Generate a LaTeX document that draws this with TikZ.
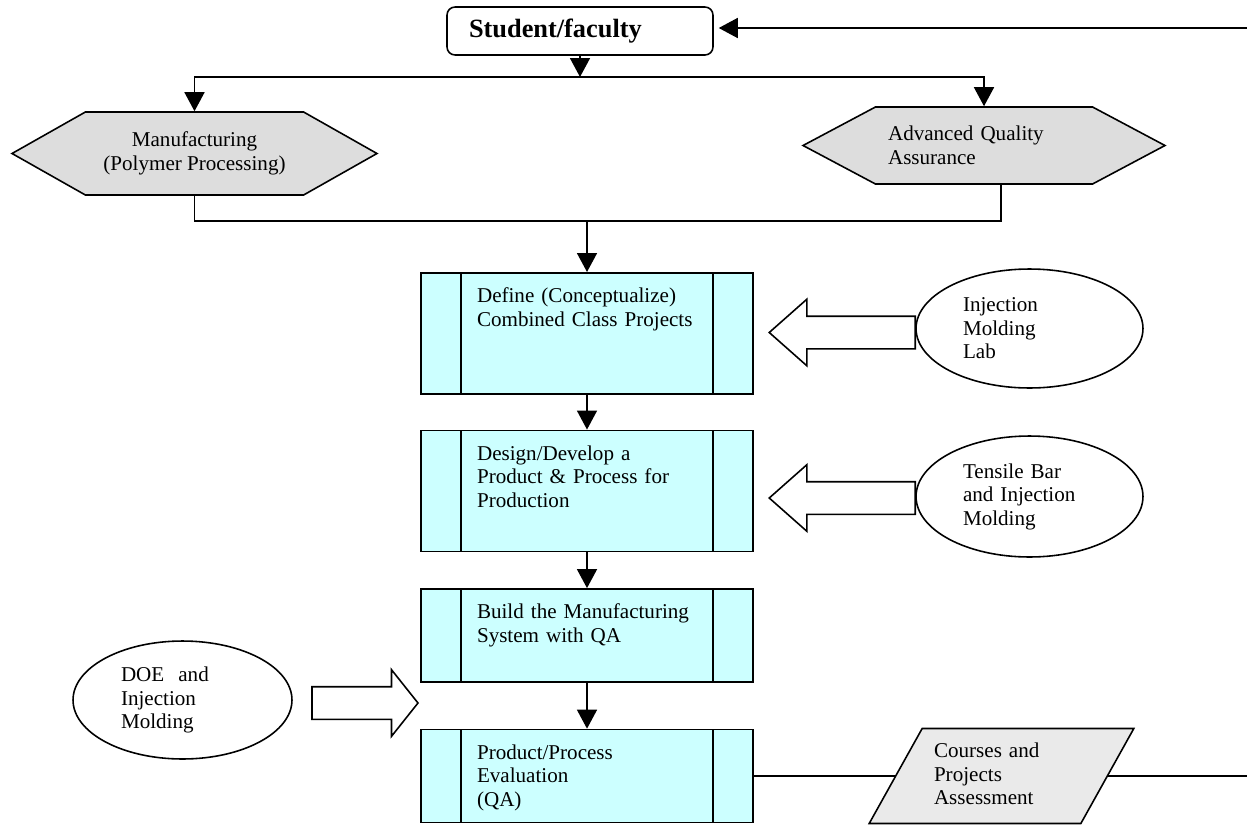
\documentclass[tikz,border=0pt]{standalone}
\usepackage{fontspec}
\setmainfont{Liberation Serif}
\usepackage{tikz}
\usetikzlibrary{positioning, arrows.meta, shapes.symbols, shapes.geometric, shapes.arrows}

\definecolor{boxcyan}{HTML}{CCFFFF}
\definecolor{hexgray}{HTML}{DDDDDD}
\definecolor{paragray}{HTML}{EAEAEA}

\begin{document}
\begin{tikzpicture}[
        x=0.02cm, y=-0.02cm,
        line width=0.9pt,
        every node/.style={font=\fontsize{12}{13.4}\selectfont},
        top_node/.style={rectangle, draw, rounded corners=0.16cm, minimum width=5.32cm, minimum height=0.96cm, inner xsep=0.44cm, text width=4.44cm, align=left, font=\fontsize{15}{18}\selectfont\bfseries},
        hex_node/.style={signal, signal to=west and east, draw, fill=hexgray, align=center, inner sep=0pt},
        proc_node/.style={rectangle, draw, fill=boxcyan, inner xsep=1.12cm, inner ysep=0pt, text width=4.4cm, align=left, text height=0.6cm,
            path picture={\draw ([xshift=0.8cm]path picture bounding box.north west) -- ([xshift=0.8cm]path picture bounding box.south west);
                \draw ([xshift=-0.8cm]path picture bounding box.north east) -- ([xshift=-0.8cm]path picture bounding box.south east);}},
        lab_node/.style={ellipse, draw, align=left, inner sep=0pt},
        fat_arrow/.style={single arrow, draw, fill=white, minimum width=1.3cm, single arrow head extend=0.34cm, inner sep=0.31cm},
        out_node/.style={trapezium, trapezium left angle=39.4, trapezium right angle=140.6, trapezium stretches=true, draw, fill=paragray, minimum width=5.3cm, minimum height=1.9cm, text width=2.7cm, text height=0cm, text depth=0.74cm, align=left, inner sep=0pt},
        arrow/.style={-{Triangle[length=0.38cm, width=0.4cm]}}
    ]
        \useasboundingbox (0,0) rectangle (1247,825);

        % Nodes
        \node[top_node] (student) at (580,31) {Student/faculty};
        \coordinate (back) at (1247,28);
        \coordinate (split) at (580,77);
        \node[hex_node, minimum width=7.3cm, minimum height=1.66cm, signal pointer angle=59] (manuf) at (194.5,153.5) {Manufacturing\\(Polymer Processing)};
        \node[hex_node, minimum width=7.24cm, minimum height=1.54cm, signal pointer angle=56, text width=3.84cm, align=left] (aqa) at (984,145.5) {Advanced Quality\\Assurance};
        \coordinate (merge) at (587,221);

        \node[proc_node, text depth=1.82cm, anchor=north] (define) at (587,272) {Define (Conceptualize)\\Combined Class Projects};
        \node[proc_node, text depth=1.82cm, below=0.70cm of define] (design) {Design/Develop a\\Product \& Process for\\Production};
        \node[proc_node, text depth=1.26cm, below=0.72cm of design] (build) {Build the Manufacturing\\System with QA};
        \node[proc_node, text depth=1.26cm, below=0.92cm of build] (eval) {Product/Process\\Evaluation\\(QA)};

        \node[lab_node, minimum width=4.54cm, minimum height=2.38cm, text width=2.66cm] (iml) at (1029.5,328.5) {Injection\\Molding\\Lab};
        \node[fat_arrow, minimum height=2.92cm, single arrow tip angle=83, shape border rotate=180, anchor=tail] (push1) at (916,332.5) {};
        \node[lab_node, minimum width=4.54cm, minimum height=2.42cm, text width=2.66cm] (tbim) at (1029.5,496.5) {Tensile Bar\\and Injection\\Molding};
        \node[fat_arrow, minimum height=2.92cm, single arrow tip angle=83, shape border rotate=180, anchor=tail] (push2) at (916,498) {};
        \node[lab_node, minimum width=4.38cm, minimum height=2.36cm, text width=2.46cm] (doe) at (182.5,700) {DOE\ \ and\\Injection\\Molding};
        \node[fat_arrow, minimum height=2.12cm, single arrow tip angle=103, anchor=tip] (push3) at (419,703) {};

        \node[out_node] (cpa) at (1001.5,776) {Courses and\\Projects\\Assessment};
        \coordinate (ahead) at (1247,776);

        % Connections
        \draw[arrow, shorten >=0.1cm] (back) -- (back -| student.east);
        \draw[arrow] (student.south) -- (split);
        \draw[arrow] (split) -| (manuf.north);
        \draw[arrow] (split) -| (aqa.north);
        \draw (manuf.south) |- (merge);
        \draw ([xshift=0.34cm]aqa.south) |- (merge);
        \draw[arrow] (merge) -- (define.north);
        \draw[arrow] (define) -- (design);
        \draw[arrow] (design) -- (build);
        \draw[arrow] (build) -- (eval);
        \draw (eval.east) -- (eval.east -| cpa.west);
        \draw (cpa.east) -- (cpa.east -| ahead);

    \end{tikzpicture}
\end{document}
